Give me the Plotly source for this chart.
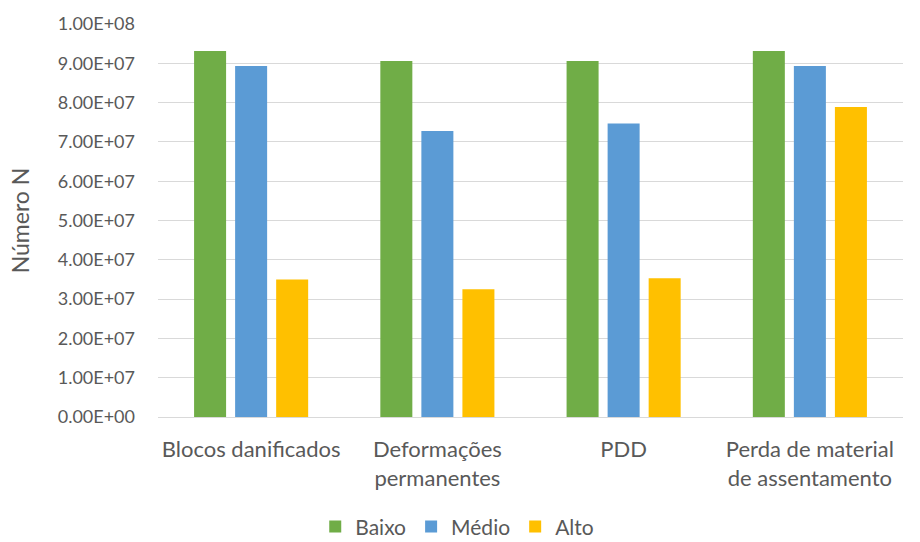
import plotly.graph_objects as go

categories = ["Blocos danificados", "Deformações<br>permanentes", "PDD",
              "Perda de material<br>de assentamento"]
baixo = [93.1e6, 90.6e6, 90.6e6, 93.1e6]
medio = [89.3e6, 72.8e6, 74.7e6, 89.3e6]
alto = [35.0e6, 32.5e6, 35.3e6, 78.9e6]
y_ticks = [i * 1e7 for i in range(11)]
y_tick_labels = [f"{v:.2E}" for v in y_ticks]

series = [("Baixo", baixo, "#70AD47"), ("Médio", medio, "#5B9BD5"), ("Alto", alto, "#FFC000")]

font_family = "Lato, Carlito, Calibri, sans-serif"
text_color = "#595959"

fig = go.Figure()
for name, vals, color in series:
    fig.add_trace(go.Bar(x=categories, y=vals, name=name, marker_color=color,
                         marker_line_width=0))

fig.update_layout(
    width=920, height=542,
    margin=dict(l=158, r=17, t=24, b=124.5, autoexpand=False),
    paper_bgcolor="white", plot_bgcolor="white",
    barmode="group", bargap=0.339, bargroupgap=0.22,
    font=dict(family=font_family, size=18, color=text_color),
    showlegend=True,
    legend=dict(orientation="h", xref="container", x=0.497, xanchor="center",
                yref="container", y=0.028, yanchor="middle",
                font=dict(size=21, color=text_color), itemwidth=30,
                traceorder="normal"),
)
fig.update_xaxes(showgrid=False, showline=False, ticks="", ticklabelstandoff=17,
                 tickfont=dict(size=22, color=text_color))
fig.update_yaxes(range=[0, 1e8], tickvals=y_ticks, ticktext=y_tick_labels,
                 showgrid=True, gridcolor="#D9D9D9", gridwidth=1,
                 zeroline=True, zerolinecolor="#D9D9D9", zerolinewidth=1,
                 showline=False, ticks="", ticklabelstandoff=22,
                 tickfont=dict(size=18, color=text_color),
                 title=dict(text="Número N", font=dict(size=23, color=text_color), standoff=21))

fig.write_html("out.html")
